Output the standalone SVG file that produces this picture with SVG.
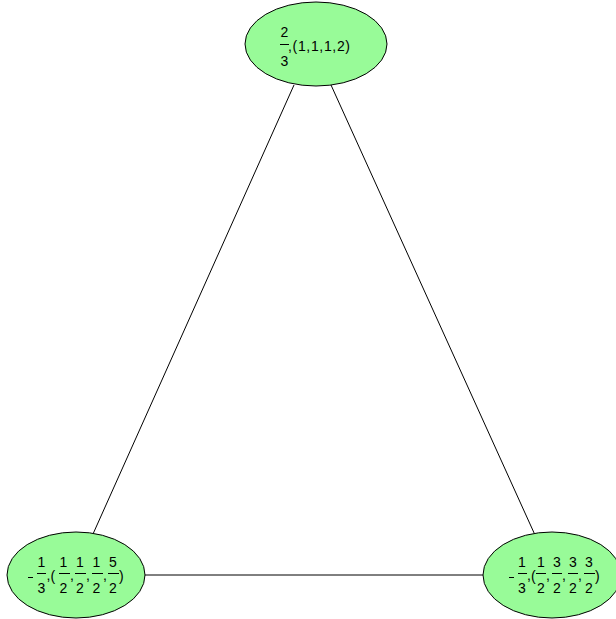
<svg xmlns="http://www.w3.org/2000/svg" width="616" height="619" viewBox="0 0 616 619">
<style>
.n{fill:#98fb98;stroke:#000;stroke-width:1}
.e{stroke:#000;stroke-width:1;fill:none}
text{font-family:"Liberation Sans",Arial,sans-serif;font-size:14px;fill:#000}
.m{text-anchor:middle}
.b{stroke:#000;stroke-width:1}
</style>
<rect width="616" height="619" fill="#fff"/>
<g id="edges">
<line class="e" x1="294" y1="85" x2="93" y2="534"/>
<line class="e" x1="331" y1="85" x2="535" y2="535"/>
<line class="e" x1="145" y1="575" x2="483" y2="575"/>
</g>
<g id="n1">
<ellipse class="n" cx="316" cy="44" rx="71" ry="42"/>
<text class="m" x="284.5" y="37">2</text>
<line class="b" x1="280" y1="44.5" x2="289" y2="44.5"/>
<text class="m" x="284.5" y="66">3</text>
<text x="288" y="51" textLength="62" lengthAdjust="spacing">,(1,1,1,2)</text>
</g>
<g id="n2">
<ellipse class="n" cx="76" cy="575" rx="69" ry="43"/>
<line class="b" x1="28" y1="577.5" x2="33" y2="577.5"/>
<text class="m" x="41.5" y="567">1</text><line class="b" x1="37" y1="573.5" x2="46" y2="573.5"/><text class="m" x="41.5" y="593">3</text>
<text x="46.5" y="580">,</text><text x="50.5" y="581">(</text>
<text class="m" x="63.5" y="567">1</text><line class="b" x1="59" y1="573.5" x2="70" y2="573.5"/><text class="m" x="63.5" y="593">2</text>
<text x="70" y="580">,</text>
<text class="m" x="80" y="567">1</text><line class="b" x1="75" y1="573.5" x2="86" y2="573.5"/><text class="m" x="80" y="593">2</text>
<text x="86" y="580">,</text>
<text class="m" x="96.5" y="567">1</text><line class="b" x1="92" y1="573.5" x2="103" y2="573.5"/><text class="m" x="96.5" y="593">2</text>
<text x="103" y="580">,</text>
<text class="m" x="113" y="567">5</text><line class="b" x1="108" y1="573.5" x2="119" y2="573.5"/><text class="m" x="113" y="593">2</text>
<text x="119" y="581">)</text>
</g>
<g id="n3">
<ellipse class="n" cx="552" cy="575" rx="69" ry="43"/>
<line class="b" x1="509" y1="577.5" x2="514" y2="577.5"/>
<text class="m" x="522" y="567">1</text><line class="b" x1="518" y1="573.5" x2="527" y2="573.5"/><text class="m" x="522" y="593">3</text>
<text x="527" y="580">,</text><text x="531" y="581">(</text>
<text class="m" x="541" y="567">1</text><line class="b" x1="536" y1="573.5" x2="546" y2="573.5"/><text class="m" x="541" y="593">2</text>
<text x="546" y="580">,</text>
<text class="m" x="557" y="567">3</text><line class="b" x1="552" y1="573.5" x2="562" y2="573.5"/><text class="m" x="557" y="593">2</text>
<text x="562" y="580">,</text>
<text class="m" x="573" y="567">3</text><line class="b" x1="568" y1="573.5" x2="578" y2="573.5"/><text class="m" x="573" y="593">2</text>
<text x="578" y="580">,</text>
<text class="m" x="589" y="567">3</text><line class="b" x1="584" y1="573.5" x2="595" y2="573.5"/><text class="m" x="589" y="593">2</text>
<text x="595" y="581">)</text>
</g>
</svg>
